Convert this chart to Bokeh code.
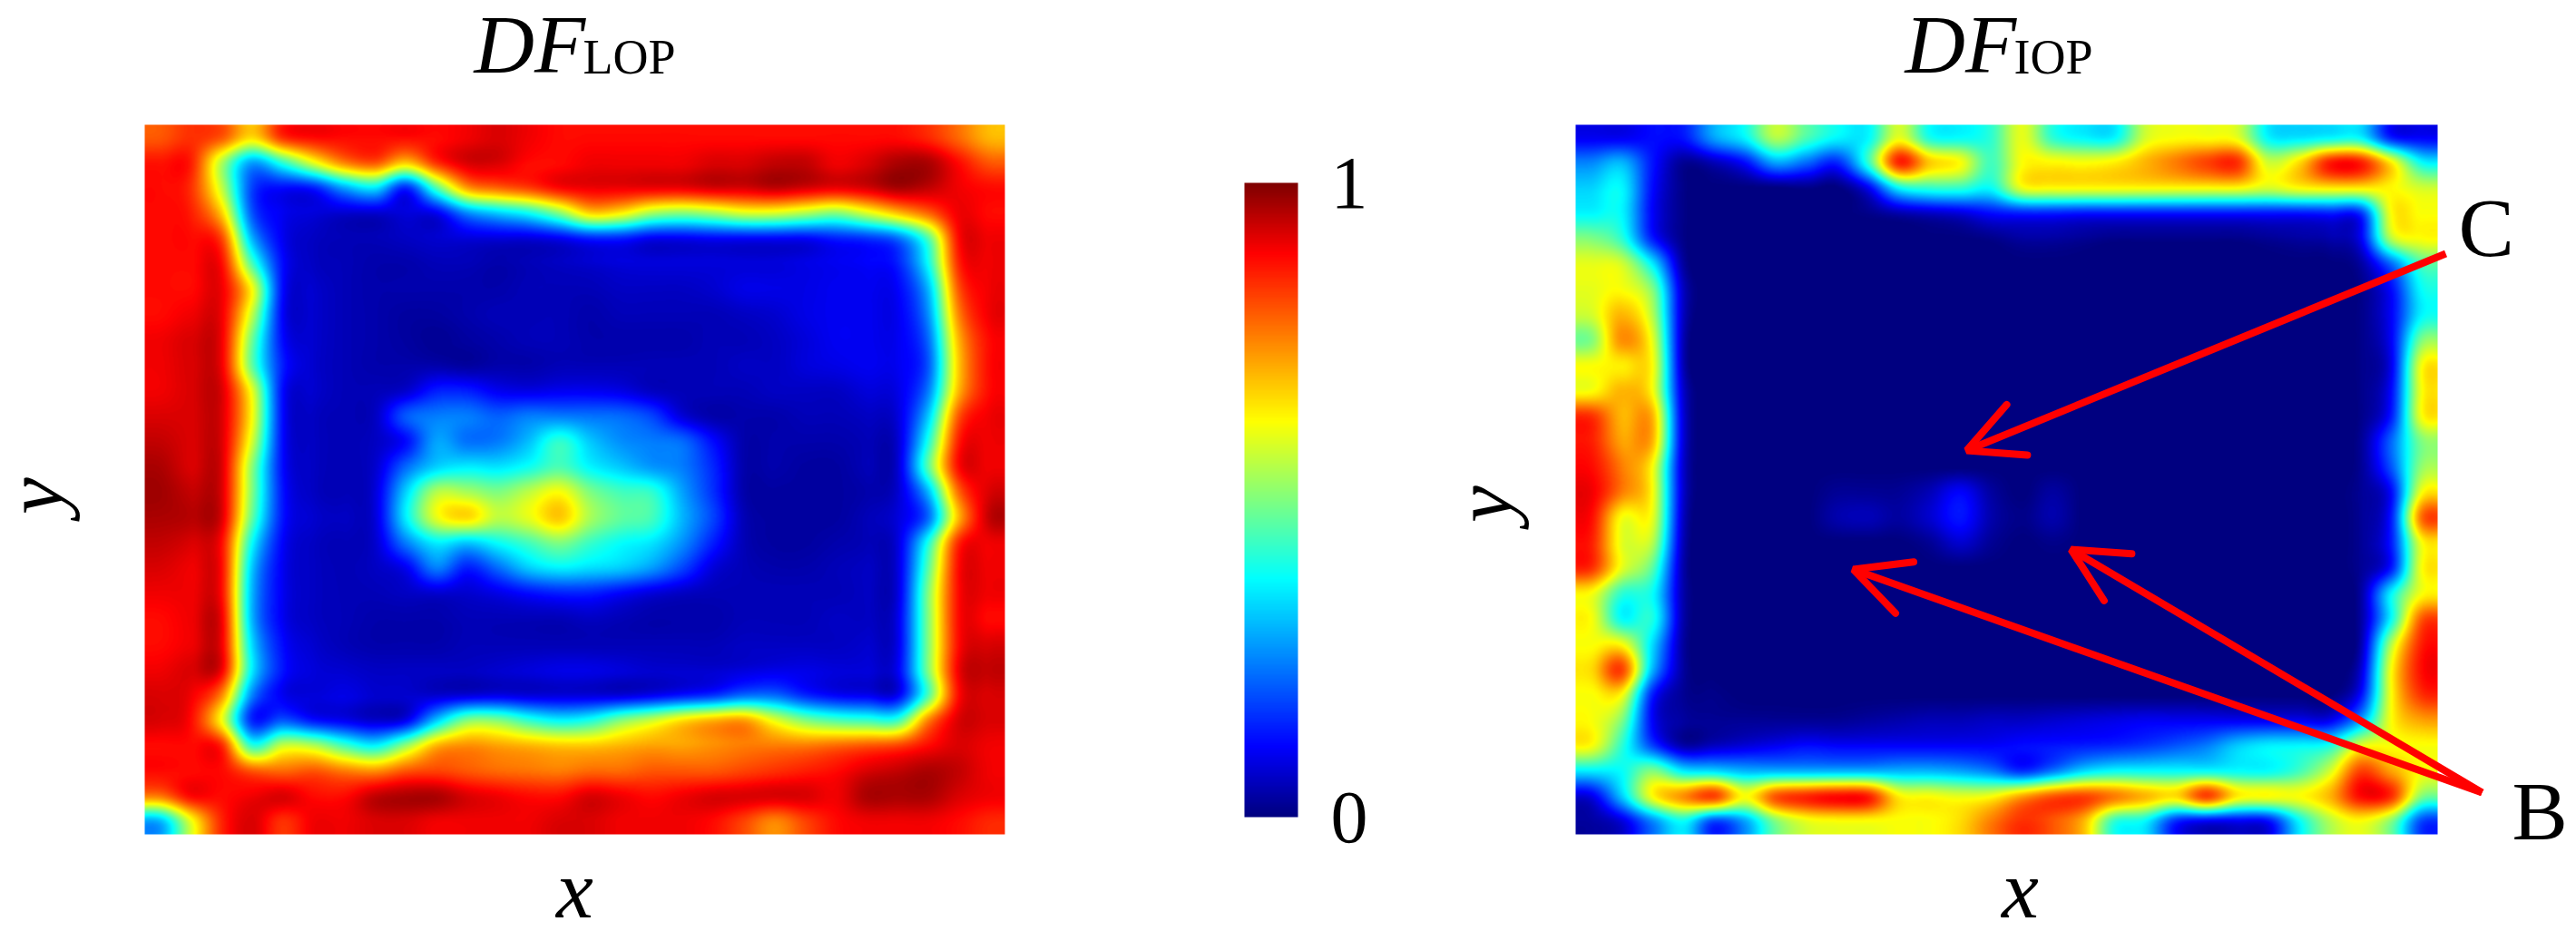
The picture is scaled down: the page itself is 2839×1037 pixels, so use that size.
import numpy as np
from bokeh.embed import file_html
from bokeh.layouts import row
from bokeh.models import Arrow, ColorBar, FixedTicker, Label, LinearColorMapper, OpenHead, Range1d
from bokeh.plotting import figure
from bokeh.resources import INLINE

# Readings, percent of the 0..1 scale, top row first.
df_lop = [
[80,84,80,66,84,88,88,88,88,88,90,92,90,88,88,88,88,88,88,88,88,88,88,88,88,85,78,70],
[87,86,55,28,42,60,75,80,68,84,92,92,88,88,90,90,90,90,92,92,94,94,90,92,96,96,88,80],
[88,84,57,18,12,14,28,35,15,45,72,78,82,88,90,90,90,90,92,92,94,92,90,92,96,94,90,88],
[88,86,68,20,10,8,7,7,8,10,25,32,38,50,66,63,53,50,53,58,58,54,50,58,68,78,90,88],
[88,88,82,30,10,6,5,5,6,7,8,8,8,10,14,14,10,10,11,11,11,11,14,16,22,45,88,90],
[88,88,88,45,12,6,5,4,4,5,5,4,5,6,7,8,8,8,8,8,8,9,10,11,14,38,85,90],
[88,88,90,62,12,7,5,4,4,4,4,4,5,5,5,6,6,6,7,9,9,9,10,10,11,30,80,90],
[88,90,90,56,11,7,5,4,3,3,4,5,5,5,4,5,5,5,5,6,7,9,10,10,10,26,75,90],
[90,92,90,48,12,7,5,4,3,2,3,4,5,5,4,4,4,4,5,5,6,8,10,10,10,22,70,88],
[90,92,90,47,14,7,5,4,4,4,3,4,4,5,5,5,5,5,5,6,6,8,9,10,10,20,68,88],
[90,92,92,60,12,7,5,5,7,14,14,10,9,10,10,9,6,5,5,5,6,6,6,8,9,24,70,88],
[92,92,92,62,12,6,5,6,20,24,24,21,24,24,23,22,18,8,4,4,4,5,5,6,8,32,80,90],
[94,92,92,58,12,6,5,6,12,28,23,24,31,42,32,26,24,22,12,4,4,4,4,5,7,40,86,90],
[96,92,92,51,12,6,5,7,22,33,36,35,39,45,37,32,27,24,15,4,4,3,3,5,7,46,88,90],
[97,94,92,50,13,6,5,8,33,55,54,50,56,62,50,44,42,28,16,4,3,3,3,4,7,30,78,92],
[96,95,92,47,13,7,6,8,36,60,66,56,60,68,54,47,44,30,18,5,3,3,3,5,8,22,70,94],
[94,92,88,38,11,6,5,7,24,36,32,38,44,50,43,38,35,26,14,5,3,3,4,5,8,40,85,90],
[92,90,88,32,10,6,5,6,10,24,14,22,32,36,34,32,27,18,8,5,4,4,5,6,8,46,88,90],
[90,90,88,30,10,6,5,5,6,7,7,9,12,14,14,11,8,6,5,5,5,5,5,6,8,50,88,90],
[88,90,90,30,10,6,5,4,4,4,5,5,5,5,6,5,4,4,4,5,5,5,6,6,9,50,88,88],
[88,90,90,34,12,7,5,4,4,4,5,5,5,5,5,5,5,5,5,6,6,6,6,7,9,50,88,92],
[90,92,90,36,13,8,7,6,6,6,6,7,8,9,9,8,7,7,7,8,9,9,8,8,10,50,90,94],
[92,90,75,25,10,8,9,7,7,7,8,9,8,8,8,8,10,13,16,22,22,15,11,10,10,45,88,92],
[92,88,62,15,20,13,10,7,10,32,50,50,42,37,40,50,57,65,70,72,60,50,45,43,43,75,92,92],
[88,88,85,42,57,55,44,37,52,70,74,72,70,68,68,70,72,72,74,76,76,76,78,80,82,88,92,90],
[88,88,88,80,78,80,76,74,80,82,80,78,77,76,78,78,80,80,80,82,84,86,88,92,94,96,94,90],
[76,88,88,90,92,88,88,94,96,96,92,90,88,88,92,90,88,90,92,92,92,92,90,96,96,96,92,90],
[30,60,85,92,84,90,90,92,92,90,90,90,90,92,92,90,90,90,88,82,75,82,88,90,90,90,88,85],
]
df_iop = [
[10,10,12,13,28,37,55,45,37,37,60,40,38,42,60,42,37,37,58,62,62,60,37,35,37,37,14,11],
[25,30,13,2,5,12,28,22,15,42,85,68,62,44,62,63,62,64,70,76,82,84,58,66,86,86,64,38],
[33,37,12,1,0,0,0,1,0,10,37,42,42,38,60,62,62,62,62,62,62,62,58,62,64,64,63,58],
[37,37,11,1,0,0,0,0,0,1,4,6,8,12,14,14,13,13,13,13,13,13,13,13,14,16,62,62],
[50,42,14,1,0,0,0,0,0,0,0,0,0,1,3,3,2,1,1,1,1,1,2,3,4,10,55,62],
[60,58,36,3,0,0,0,0,0,0,0,0,0,0,0,0,0,0,0,0,0,0,0,0,0,3,22,45],
[60,62,50,6,0,0,0,0,0,0,0,0,0,0,0,0,0,0,0,0,0,0,0,0,0,1,12,38],
[58,70,55,6,0,0,0,0,0,0,0,0,0,0,0,0,0,0,0,0,0,0,0,0,0,1,11,37],
[50,74,60,5,0,0,0,0,0,0,0,0,0,0,0,0,0,0,0,0,0,0,0,0,0,1,11,50],
[62,64,62,5,0,0,0,0,0,0,0,0,0,0,0,0,0,0,0,0,0,0,0,0,0,1,10,62],
[62,70,62,7,0,0,0,0,0,0,0,0,0,0,0,0,0,0,0,0,0,0,0,0,0,1,12,62],
[84,70,70,8,0,0,0,0,0,0,0,0,0,0,0,0,0,0,0,0,0,0,0,0,0,1,14,62],
[86,72,70,8,0,0,0,0,0,0,0,0,0,0,0,0,0,0,0,0,0,0,0,0,0,2,22,50],
[88,76,62,7,0,0,0,0,0,0,0,0,0,0,0,0,0,0,0,0,0,0,0,0,0,2,20,52],
[90,76,62,7,0,0,0,0,2,2,2,5,11,3,0,3,0,0,0,0,0,0,0,0,0,2,12,62],
[88,62,60,6,0,0,0,0,4,5,3,7,13,4,1,4,0,0,0,0,0,0,0,0,0,2,14,78],
[86,60,55,5,0,0,0,0,0,0,0,2,7,2,0,1,0,0,0,0,0,0,0,0,0,2,14,62],
[84,60,46,4,0,0,0,0,0,0,0,0,0,0,0,0,0,0,0,0,0,0,0,0,0,2,14,62],
[62,42,38,4,0,0,0,0,0,0,0,0,0,0,0,0,0,0,0,0,0,0,0,0,0,3,37,62],
[62,38,40,4,0,0,0,0,0,0,0,0,0,0,0,0,0,0,0,0,0,0,0,0,0,3,38,80],
[62,62,34,3,0,0,0,0,0,0,0,0,0,0,0,0,0,0,0,0,0,0,0,0,0,4,55,86],
[66,82,30,3,0,0,0,0,0,0,0,0,0,0,0,0,0,0,0,0,0,0,0,0,0,7,62,88],
[62,62,14,2,1,0,0,0,0,0,0,0,0,0,0,0,0,0,0,0,0,0,0,0,0,12,62,84],
[62,50,11,3,2,2,2,2,2,3,4,5,5,6,6,7,8,9,10,10,10,10,10,10,10,28,62,72],
[62,42,18,4,6,8,10,12,11,11,11,11,11,11,12,13,14,15,17,20,24,32,36,37,40,60,62,62],
[36,38,50,36,34,30,30,30,30,30,30,30,28,24,16,24,34,38,38,38,38,38,38,44,58,82,72,62],
[9,32,62,74,82,62,80,85,88,86,64,62,60,62,72,80,82,76,70,66,82,64,62,62,70,88,84,50],
[3,8,25,38,18,28,50,60,62,62,62,62,66,76,84,80,70,42,37,15,10,10,12,37,55,62,50,18],
]
scale_ticks = [0, 1]
scale_tick_labels = {"0": "0", "1": "1"}
titles = ["LOP", "IOP"]
jet_stops = [0.0, 0.11, 0.375, 0.625, 0.89, 1.0]
jet_r = [0, 0, 0, 255, 255, 128]
jet_g = [0, 0, 255, 255, 0, 0]
jet_b = [128, 255, 255, 0, 0, 0]

SERIF = "Liberation Serif"
RED = "#ff0000"
H = 1029
t = np.linspace(0, 1, 256)
JET = ["#%02x%02x%02x" % (int(r), int(g), int(b))
       for r, g, b in zip(np.interp(t, jet_stops, jet_r), np.interp(t, jet_stops, jet_g), np.interp(t, jet_stops, jet_b))]
mapper = LinearColorMapper(palette=JET, low=0, high=1)


def shade(grid, w, h):
    """Smooth bicubic shading of the read grid for display, like the reference's."""
    a = np.array(grid, dtype=float) / 100.0

    def along(arr, n_out):
        n = arr.shape[0]
        pos = (np.arange(n_out) + 0.5) / n_out * n - 0.5
        i = np.floor(pos).astype(int)
        f = (pos - i)[:, None]
        g = lambda k: arr[np.clip(i + k, 0, n - 1)]
        return 0.5 * (2 * g(0) + (g(1) - g(-1)) * f + (2 * g(-1) - 5 * g(0) + 4 * g(1) - g(2)) * f ** 2
                      + (3 * g(0) - g(-1) - 3 * g(1) + g(2)) * f ** 3)

    s = along(a, h)
    s = along(s.T, w).T
    return np.clip(s, 0, 1)[::-1].astype(np.float32)


def panel(grid, left, right, top, bottom, fig_left, fig_right):
    fw, fh = right - left, bottom - top
    p = figure(width=fig_right - fig_left, height=H, x_range=Range1d(fig_left, fig_right),
               y_range=Range1d(-H, 0), output_backend="svg", toolbar_location=None, min_border=0,
               outline_line_color=None, background_fill_color=None, border_fill_color=None)
    p.axis.visible = False
    p.grid.visible = False
    p.image(image=[shade(grid, fw, fh)], x=left, y=-bottom, dw=fw, dh=fh, color_mapper=mapper)
    return p


def text(p, x, y, s, size, style="normal", angle=0, align="left"):
    # y is the text's baseline in the picture; x, y are the box's centre when rotated.
    lift = 0.38 * size if angle == 0 else 0
    p.add_layout(Label(x=x, y=-y + lift, text=s, text_font=SERIF, text_font_size=f"{size}px",
                       text_font_style=style, text_color="#000000", angle=angle, angle_units="deg",
                       text_align=align, text_baseline="alphabetic"))


def arrow(p, tail, tip):
    p.add_layout(Arrow(x_start=tail[0], y_start=-tail[1], x_end=tip[0], y_end=-tip[1],
                       line_color=RED, line_width=8,
                       end=OpenHead(size=60, line_color=RED, line_width=8, line_cap="round")))


a = panel(df_lop, 159, 1107, 137, 919, 0, 1300)
text(a, 522, 83, "DF", 92, "italic")
text(a, 642, 83, titles[0], 54)
text(a, 633, 1014, "x", 92, "italic", align="center")
text(a, 37, 546, "y", 92, "italic", angle=90, align="center")

b = figure(width=280, height=H, x_range=Range1d(0, 1), y_range=Range1d(0, 1), output_backend="svg",
           toolbar_location=None, min_border=0, outline_line_color=None)
b.axis.visible = False
b.grid.visible = False
bar = ColorBar(color_mapper=mapper, width=59, height=699, padding=0, margin=0, location=(71, 129),
               ticker=FixedTicker(ticks=scale_ticks), major_label_overrides=scale_tick_labels,
               major_label_text_font=SERIF, major_label_text_font_size="82px", major_label_text_color="#000000",
               major_tick_line_color=None, minor_tick_line_color=None, bar_line_color=None, label_standoff=36)
b.add_layout(bar, "center")

c = panel(df_iop, 1736, 2686, 137, 919, 1580, 2831)
text(c, 2099, 83, "DF", 92, "italic")
text(c, 2219, 83, titles[1], 54)
text(c, 2226, 1014, "x", 92, "italic", align="center")
text(c, 1634, 555, "y", 92, "italic", angle=90, align="center")
arrow(c, (2695, 279), (2167, 496))
arrow(c, (2735, 873), (2042, 627))
arrow(c, (2735, 873), (2282, 605))
text(c, 2709, 285, "C", 92)
text(c, 2768, 928, "B", 92)

open("out.html", "w").write(file_html(row(a, b, c), INLINE))
